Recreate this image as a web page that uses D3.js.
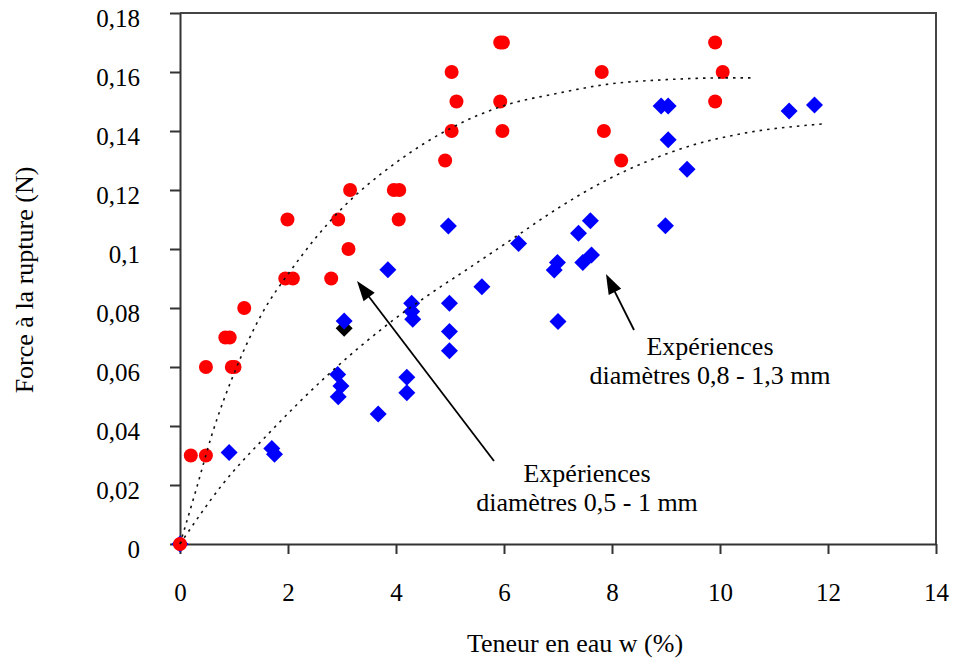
<!DOCTYPE html>
<html>
<head>
<meta charset="utf-8">
<script src="https://cdn.jsdelivr.net/npm/d3@7"></script>
<style>
  html, body { margin: 0; padding: 0; background: #fff; }
  svg { display: block; }
  text { font-family: "Liberation Serif", "Times New Roman", serif; fill: #000; }
</style>
</head>
<body>
<svg id="chart" width="956" height="664"></svg>
<script>
// ---- Data ----
const xTicks = [0, 2, 4, 6, 8, 10, 12, 14];
const yTicks = [0, 0.02, 0.04, 0.06, 0.08, 0.1, 0.12, 0.14, 0.16, 0.18];

// Expériences diamètres 0,5 - 1 mm (red circles)
const redX = [0, 0.2, 0.48, 0.48, 0.84, 0.92, 0.96, 1.01, 1.19, 1.99, 1.95, 2.09, 2.8, 2.93, 3.12, 3.15, 3.96, 4.06, 4.05, 4.91, 5.03, 5.03, 5.12, 5.93, 5.98, 5.93, 5.97, 7.81, 7.85, 8.17, 9.91, 10.05, 9.91];
const redY = [0, 0.03, 0.03, 0.06, 0.07, 0.07, 0.06, 0.06, 0.08, 0.11, 0.09, 0.09, 0.09, 0.11, 0.10, 0.12, 0.12, 0.12, 0.11, 0.13, 0.14, 0.16, 0.15, 0.17, 0.17, 0.15, 0.14, 0.16, 0.14, 0.13, 0.17, 0.16, 0.15];

// Expériences diamètres 0,8 - 1,3 mm (blue diamonds)
const blueX = [0, 0.91, 1.70, 1.75, 2.92, 2.98, 2.93, 3.04, 3.67, 3.85, 4.20, 4.20, 4.29, 4.29, 4.31, 4.97, 4.99, 4.99, 4.99, 5.59, 6.27, 6.93, 6.99, 7.00, 7.38, 7.46, 7.62, 7.60, 8.91, 9.04, 9.04, 8.99, 9.39, 11.28, 11.75];
const blueY = [0, 0.031, 0.0324, 0.0304, 0.0575, 0.0536, 0.0499, 0.0756, 0.0441, 0.093, 0.0565, 0.0513, 0.0816, 0.0788, 0.0762, 0.1078, 0.0816, 0.072, 0.0655, 0.0872, 0.1019, 0.0929, 0.0954, 0.0754, 0.1053, 0.0954, 0.098, 0.1096, 0.1485, 0.1485, 0.137, 0.1079, 0.127, 0.1468, 0.1488];

// single black diamond
const blackX = [3.04];
const blackY = [0.0731];

// Trend lines
const redTrendX = [0, 0.3, 0.59, 1.05, 1.5, 2.07, 2.96, 4.01, 5.03, 5.98, 7.0, 7.9, 9.0, 10.06, 10.65];
const redTrendY = [0, 0.0185, 0.037, 0.060, 0.0775, 0.0932, 0.113, 0.1294, 0.1411, 0.1485, 0.1528, 0.1558, 0.1574, 0.158, 0.158];

const blueTrendX = [0, 0.8, 1.67, 2.72, 3.95, 4.81, 5.25, 6.17, 7.04, 7.84, 8.64, 9.51, 10.43, 11.91];
const blueTrendY = [0, 0.0205, 0.038, 0.057, 0.0759, 0.087, 0.0923, 0.1036, 0.1143, 0.1228, 0.1296, 0.1353, 0.1392, 0.1424];

// Annotations
const annotations = [
  { lines: ["Expériences", "diamètres 0,8 - 1,3 mm"], tx: 710, ty: 355, from: [634, 330], to: [606, 274] },
  { lines: ["Expériences", "diamètres 0,5 - 1 mm"], tx: 587, ty: 482, from: [494, 461], to: [357, 281] }
];

// ---- Chart ----
const svg = d3.select("#chart");
const x = d3.scaleLinear().domain([0, 14]).range([180, 936]);
const y = d3.scaleLinear().domain([0, 0.18]).range([544, 13]);

const fmt = d => d === 0 ? "0" : String(+d.toFixed(2)).replace(".", ",");

// frame (top & right)
svg.append("path")
  .attr("d", `M${x(0)},${y(0.18)}H${x(14)}V${y(0)}`)
  .attr("fill", "none").attr("stroke", "#444").attr("stroke-width", 2);

// Y axis
const gy = svg.append("g").attr("transform", `translate(${x(0)},0)`)
  .call(d3.axisLeft(y).tickValues(yTicks).tickFormat(fmt).tickSize(10).tickSizeOuter(0).tickPadding(30));
gy.select(".domain").attr("stroke", "#333").attr("stroke-width", 2);
gy.selectAll(".tick line").attr("stroke", "#333").attr("stroke-width", 2);
gy.selectAll(".tick text").attr("font-size", 25).attr("font-family", "Liberation Serif").attr("dy", "0.52em");

// X axis
const gx = svg.append("g").attr("transform", `translate(0,${y(0)})`)
  .call(d3.axisBottom(x).tickValues(xTicks).tickFormat(fmt).tickSize(10).tickSizeOuter(0));
gx.select(".domain").attr("stroke", "#333").attr("stroke-width", 2);
gx.selectAll(".tick line").attr("stroke", "#333").attr("stroke-width", 2);
gx.selectAll(".tick text").attr("font-size", 25).attr("font-family", "Liberation Serif").attr("y", 57).attr("dy", 0);

// Axis titles
svg.append("text").attr("x", 575).attr("y", 652).attr("text-anchor", "middle")
  .attr("font-size", 26).text("Teneur en eau w (%)");
svg.append("text").attr("transform", "translate(33,280) rotate(-90)").attr("text-anchor", "middle")
  .attr("font-size", 26).text("Force à la rupture (N)");

// markers
const diamond = s => `M0,${-s}L${s},0L0,${s}L${-s},0Z`;

svg.append("g").selectAll("path").data(blackX.map((v, i) => [v, blackY[i]])).join("path")
  .attr("transform", d => `translate(${x(d[0])},${y(d[1])})`)
  .attr("d", diamond(8.5)).attr("fill", "#000");

svg.append("g").selectAll("path").data(blueX.map((v, i) => [v, blueY[i]])).join("path")
  .attr("transform", d => `translate(${x(d[0])},${y(d[1])})`)
  .attr("d", diamond(8.5)).attr("fill", "#0000ff");

svg.append("g").selectAll("circle").data(redX.map((v, i) => [v, redY[i]])).join("circle")
  .attr("cx", d => x(d[0])).attr("cy", d => y(d[1])).attr("r", 7).attr("fill", "#ff0000");

// trend lines
const line = d3.line().x(d => x(d[0])).y(d => y(d[1])).curve(d3.curveMonotoneX);
[[redTrendX, redTrendY], [blueTrendX, blueTrendY]].forEach(([xs, ys]) => {
  svg.append("path").datum(xs.map((v, i) => [v, ys[i]]))
    .attr("d", line).attr("fill", "none").attr("stroke", "#111")
    .attr("stroke-width", 1.6).attr("stroke-dasharray", "2.5,5");
});

// annotations with arrows
annotations.forEach(a => {
  const [x1, y1] = a.from, [x2, y2] = a.to;
  const ang = Math.atan2(y2 - y1, x2 - x1);
  const L = 20, W = 7;
  const bx = x2 - L * Math.cos(ang), by = y2 - L * Math.sin(ang);
  svg.append("line").attr("x1", x1).attr("y1", y1).attr("x2", bx + 4 * Math.cos(ang)).attr("y2", by + 4 * Math.sin(ang))
    .attr("stroke", "#000").attr("stroke-width", 1.8);
  const px = -Math.sin(ang), py = Math.cos(ang);
  svg.append("path")
    .attr("d", `M${x2},${y2}L${bx + W * px},${by + W * py}L${bx - W * px},${by - W * py}Z`)
    .attr("fill", "#000");
  a.lines.forEach((t, i) => {
    svg.append("text").attr("x", a.tx).attr("y", a.ty + i * 28.5)
      .attr("text-anchor", "middle").attr("font-size", 26).text(t);
  });
});
</script>
</body>
</html>
